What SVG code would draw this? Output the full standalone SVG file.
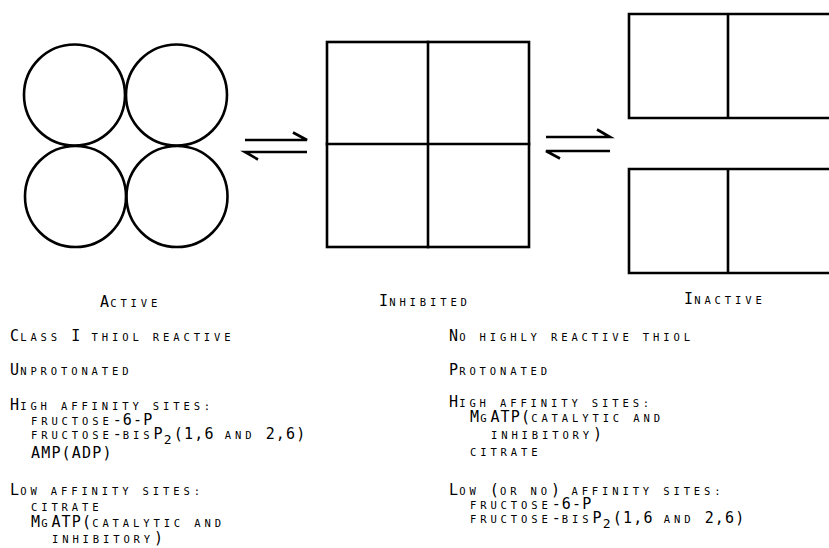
<svg xmlns="http://www.w3.org/2000/svg" width="829" height="548" viewBox="0 0 829 548">
<style>
  .ln { fill: none; stroke: #000; stroke-width: 2.6; stroke-linecap: square; }
  .ar { fill: none; stroke: #000; stroke-width: 2.6; stroke-linecap: butt; }
  .t { font-family: "DejaVu Sans Mono", "Liberation Mono", monospace; font-size: 15px; letter-spacing: 1.17px; fill: #000; }
  .s { font-size: 10.5px; letter-spacing: 3.88px; }
  .sub { font-size: 13px; letter-spacing: 2.37px; }
</style>
<rect x="0" y="0" width="829" height="548" fill="#fff"/>

<g id="node-active">
  <circle class="ln" cx="74.5" cy="95" r="50.5"/>
  <circle class="ln" cx="176.5" cy="95" r="50.5"/>
  <circle class="ln" cx="75.5" cy="196.5" r="50.5"/>
  <circle class="ln" cx="177" cy="196.5" r="50.5"/>
  <text class="t" x="100" y="307">A<tspan class="s">CTIVE</tspan></text>
</g>

<g id="node-inhibited">
  <rect class="ln" x="327" y="42" width="202" height="205"/>
  <line class="ln" x1="428" y1="42" x2="428" y2="247"/>
  <line class="ln" x1="327" y1="144" x2="529" y2="144"/>
  <text class="t" x="379" y="306">I<tspan class="s">NHIBITED</tspan></text>
</g>

<g id="node-inactive">
  <path class="ln" d="M840,14 H629 V118 H840 M728,14 V118"/>
  <path class="ln" d="M840,169 H629 V273 H840 M728,169 V273"/>
  <text class="t" x="684" y="304">I<tspan class="s">NACTIVE</tspan></text>
</g>

<g id="connectors">
  <path class="ar" d="M245,140 H307 L293,132.5"/>
  <path class="ar" d="M307,152 H245 L258,159.5"/>
  <path class="ar" d="M546,137 H610 L597,129.5"/>
  <path class="ar" d="M610,151 H546 L560,158.5"/>
</g>

<g id="active-properties">
  <text class="t" x="10" y="341">C<tspan class="s">LASS </tspan>I<tspan class="s"> THIOL REACTIVE</tspan></text>
  <text class="t" x="10" y="375">U<tspan class="s">NPROTONATED</tspan></text>
  <text class="t" x="10" y="410">H<tspan class="s">IGH AFFINITY SITES:</tspan></text>
  <text class="t" x="31" y="425"><tspan class="s">FRUCTOSE</tspan>-6-P</text>
  <text class="t" x="31" y="439"><tspan class="s">FRUCTOSE</tspan>-<tspan class="s">BIS</tspan>P<tspan class="sub" dy="5">2</tspan><tspan dy="-5">(1,6</tspan><tspan class="s"> AND </tspan>2,6)</text>
  <text class="t" x="31" y="458">AMP(ADP)</text>
  <text class="t" x="10" y="495">L<tspan class="s">OW AFFINITY SITES:</tspan></text>
  <text class="t" x="31" y="511"><tspan class="s">CITRATE</tspan></text>
  <text class="t" x="31" y="527">M<tspan class="s">G</tspan>ATP(<tspan class="s">CATALYTIC AND</tspan></text>
  <text class="t" x="52" y="543"><tspan class="s">INHIBITORY</tspan>)</text>
</g>

<g id="inactive-properties">
  <text class="t" x="449" y="341">N<tspan class="s">O HIGHLY REACTIVE THIOL</tspan></text>
  <text class="t" x="449" y="375">P<tspan class="s">ROTONATED</tspan></text>
  <text class="t" x="449" y="407">H<tspan class="s">IGH AFFINITY SITES:</tspan></text>
  <text class="t" x="470" y="422">M<tspan class="s">G</tspan>ATP(<tspan class="s">CATALYTIC AND</tspan></text>
  <text class="t" x="491" y="439"><tspan class="s">INHIBITORY</tspan>)</text>
  <text class="t" x="470" y="456"><tspan class="s">CITRATE</tspan></text>
  <text class="t" x="449" y="495">L<tspan class="s">OW </tspan>(<tspan class="s">OR NO</tspan>)<tspan class="s"> AFFINITY SITES:</tspan></text>
  <text class="t" x="470" y="509"><tspan class="s">FRUCTOSE</tspan>-6-P</text>
  <text class="t" x="470" y="523"><tspan class="s">FRUCTOSE</tspan>-<tspan class="s">BIS</tspan>P<tspan class="sub" dy="5">2</tspan><tspan dy="-5">(1,6</tspan><tspan class="s"> AND </tspan>2,6)</text>
</g>
</svg>
